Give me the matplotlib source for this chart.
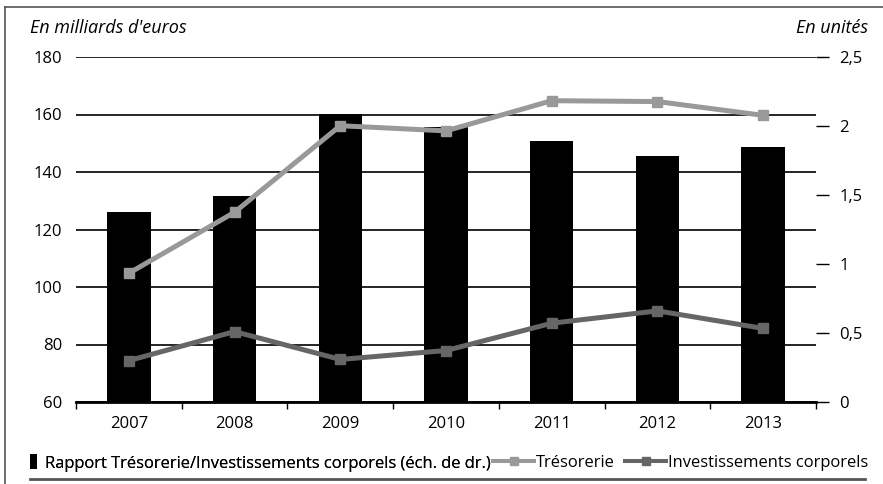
import numpy as np
import matplotlib.pyplot as plt
from matplotlib.lines import Line2D
from matplotlib.patches import Patch

plt.rcParams['font.family'] = ['Open Sans', 'DejaVu Sans']

annees = ['2007', '2008', '2009', '2010', '2011', '2012', '2013']
rapport = [1.38, 1.49, 2.09, 1.99, 1.89, 1.78, 1.85]
tresorerie = [104.8, 126.0, 156.1, 154.3, 164.8, 164.5, 159.7]
investissements = [74.4, 84.5, 74.8, 77.9, 87.4, 91.7, 85.6]

gris_clair = '#999999'
gris_fonce = '#666666'

fig = plt.figure(figsize=(8.83, 4.84), dpi=100)
ax = fig.add_axes([76 / 883, 1 - 402 / 484, (816 - 76) / 883, (402 - 57) / 484])
ax2 = ax.twinx()

x = np.arange(len(annees))

# barres sur l'échelle de droite, derrière les courbes
ax2.bar(x, rapport, width=0.41, color='black', zorder=1)
ax2.set_ylim(0, 2.5)
ax2.set_yticks([0, 0.5, 1, 1.5, 2, 2.5])
ax2.set_yticklabels(['0', '0,5', '1', '1,5', '2', '2,5'])
ax2.tick_params(axis='y', direction='out', length=9, width=1, pad=8, labelsize=12)

ax.set_zorder(ax2.get_zorder() + 1)
ax.patch.set_visible(False)
ax2.set_zorder(0)

ax.plot(x, tresorerie, color=gris_clair, lw=3.6, marker='s', ms=7, zorder=5)
ax.plot(x, investissements, color=gris_fonce, lw=3.6, marker='s', ms=7, zorder=5)

ax.set_ylim(60, 180)
ax.set_yticks(range(60, 181, 20))
ax.set_xlim(-0.5, len(annees) - 0.5)
ax.set_xticks(x)
ax.set_xticklabels(annees)
ax.set_xticks(np.arange(-0.5, len(annees), 1), minor=True)
ax.tick_params(axis='x', which='major', length=0, pad=10, labelsize=12)
ax.tick_params(axis='x', which='minor', length=5, width=1, direction='out')
ax.tick_params(axis='y', length=0, pad=10, labelsize=12)
ax.grid(axis='y', color='black', lw=1.2)

for a in (ax, ax2):
    for s in ['top', 'right', 'left', 'bottom']:
        a.spines[s].set_visible(False)
ax.spines['bottom'].set_visible(True)
ax.spines['bottom'].set_linewidth(2)

fig.text(30 / 883, 1 - 28 / 484, "En milliards d'euros", style='italic', fontsize=13, va='center')
fig.text(868 / 883, 1 - 28 / 484, "En unités", style='italic', fontsize=13, va='center', ha='right')

# légende en deux morceaux pour garder le petit rectangle noir
leg1 = fig.legend([Patch(facecolor='black')],
                  ['Rapport Trésorerie/Investissements corporels (éch. de dr.)'],
                  loc='center left', bbox_to_anchor=(30 / 883, 1 - 463 / 484), frameon=False,
                  fontsize=11.9, handlelength=0.45, handleheight=1.0, handletextpad=0.45,
                  borderaxespad=0, borderpad=0)
fig.add_artist(leg1)
fig.legend([Line2D([], [], color=gris_clair, lw=2.9, marker='s', ms=6),
            Line2D([], [], color=gris_fonce, lw=2.9, marker='s', ms=6)],
           ['Trésorerie', 'Investissements corporels'],
           loc='center left', bbox_to_anchor=(493 / 883, 1 - 463 / 484), ncol=2, frameon=False,
           fontsize=11.9, handlelength=2.5, handletextpad=0.12, columnspacing=0.6,
           borderaxespad=0, borderpad=0)

# cadre
fig.add_artist(Line2D([5 / 883, 5 / 883], [0, 1 - 7 / 484], color='#555555', lw=1.2))
fig.add_artist(Line2D([5 / 883, 1], [1 - 7 / 484, 1 - 7 / 484], color='#555555', lw=1.2))
fig.add_artist(Line2D([30 / 883, 865 / 883], [1 - 479 / 484, 1 - 479 / 484], color='#555555', lw=2))

fig.savefig('out.png', dpi=100)
